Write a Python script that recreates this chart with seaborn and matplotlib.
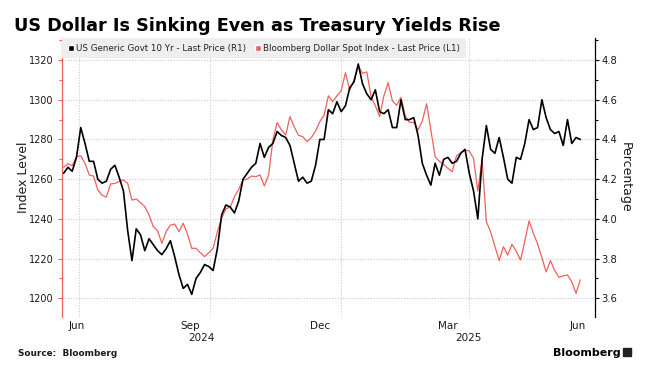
import numpy as np
import pandas as pd
import matplotlib
matplotlib.use("Agg")
import matplotlib.pyplot as plt
from matplotlib.patches import Patch, Rectangle
from matplotlib.ticker import MultipleLocator, FormatStrFormatter
import seaborn as sns

# every 3 calendar days
dates = pd.date_range("2024-06-20", periods=122, freq="3D")

yield_10y = [
    4.23, 4.26, 4.24, 4.31, 4.46, 4.38, 4.29, 4.29, 4.20, 4.18,
    4.19, 4.25, 4.27, 4.21, 4.14, 3.94, 3.79, 3.95, 3.92, 3.84,
    3.90, 3.87, 3.84, 3.82, 3.85, 3.89, 3.81, 3.72, 3.65, 3.67,
    3.62, 3.70, 3.73, 3.77, 3.76, 3.74, 3.85, 4.02, 4.07, 4.06,
    4.03, 4.09, 4.20, 4.23, 4.26, 4.28, 4.38, 4.31, 4.36, 4.38,
    4.44, 4.42, 4.41, 4.37, 4.28, 4.19, 4.21, 4.18, 4.19, 4.27,
    4.40, 4.40, 4.55, 4.53, 4.59, 4.54, 4.57, 4.66, 4.69, 4.78,
    4.68, 4.63, 4.60, 4.65, 4.54, 4.53, 4.55, 4.46, 4.46, 4.60,
    4.50, 4.50, 4.51, 4.42, 4.28, 4.22, 4.17, 4.28, 4.22, 4.30,
    4.31, 4.28, 4.29, 4.33, 4.35, 4.23, 4.14, 4.00, 4.30, 4.47,
    4.35, 4.33, 4.41, 4.31, 4.20, 4.18, 4.31, 4.30, 4.38, 4.50,
    4.45, 4.46, 4.60, 4.51, 4.45, 4.43, 4.44, 4.37, 4.50, 4.38,
    4.41, 4.40,
]

dollar_index = [
    1266.0, 1267.8, 1266.8, 1271.3, 1271.7, 1268.0, 1262.1, 1261.6, 1254.6, 1251.9,
    1251.0, 1257.6, 1257.9, 1258.8, 1259.6, 1257.9, 1249.5, 1250.0, 1248.2, 1246.2,
    1242.0, 1236.1, 1234.0, 1227.7, 1233.6, 1236.9, 1237.4, 1233.6, 1237.8, 1232.4,
    1225.2, 1225.2, 1223.0, 1221.0, 1223.0, 1225.2, 1233.6, 1240.3, 1245.2, 1245.8,
    1251.2, 1254.9, 1259.6, 1260.1, 1261.6, 1261.3, 1262.1, 1256.6, 1262.1, 1279.7,
    1288.5, 1284.8, 1282.2, 1291.5, 1286.4, 1282.1, 1281.4, 1278.9, 1280.9, 1284.3,
    1289.0, 1292.3, 1302.0, 1299.0, 1302.0, 1304.6, 1313.6, 1304.9, 1309.9, 1317.0,
    1313.3, 1314.0, 1301.5, 1297.0, 1291.5, 1302.0, 1308.6, 1299.4, 1297.2, 1301.2,
    1291.8, 1288.6, 1288.6, 1284.8, 1289.3, 1298.0, 1284.8, 1271.3, 1269.0, 1267.3,
    1265.5, 1263.8, 1271.7, 1273.4, 1274.7, 1274.2, 1270.5, 1254.0, 1270.0, 1238.6,
    1233.4, 1226.2, 1219.0, 1226.0, 1221.8, 1227.2, 1223.7, 1219.3, 1228.7, 1239.0,
    1232.8, 1227.4, 1220.5, 1213.3, 1219.0, 1214.0, 1210.6, 1211.3, 1211.8, 1208.4,
    1202.5, 1209.3,
]

month_ticks = ["2024-06-29", "2024-09-17", "2024-12-17", "2025-03-17", "2025-06-16"]
month_labels = ["Jun", "Sep", "Dec", "Mar", "Jun"]
quarter_lines = ["2024-07-01", "2024-10-01", "2025-01-01", "2025-04-01"]
year_labels = ["2024", "2025"]

red = "#f0605c"
grid_col = "#c9c9c9"
txt = "#1a1a1a"

sns.set_style("white")
plt.rcParams["font.family"] = ["DejaVu Sans"]

W, H = 645, 367
fig = plt.figure(figsize=(W / 100, H / 100), dpi=100)
ax = fig.add_axes([62 / W, 1 - 317 / H, 533 / W, 279 / H])
ax2 = ax.twinx()

sns.lineplot(x=dates, y=dollar_index, ax=ax, color=red, lw=0.9)
sns.lineplot(x=dates, y=yield_10y, ax=ax2, color="black", lw=1.2)

x0 = pd.Timestamp("2024-06-18 20:00")
x1 = pd.Timestamp("2025-06-28 08:00")
ax.set_xlim(x0, x1)
ax.set_ylim(1190.6, 1331.1)
ax2.set_ylim(3.506, 4.911)

ax.set_xticks(pd.to_datetime(month_ticks))
ax.set_xticklabels(month_labels)
ax.set_xticks(pd.to_datetime(quarter_lines), minor=True)
ax.yaxis.set_major_locator(MultipleLocator(20))
ax.yaxis.set_minor_locator(MultipleLocator(10))
ax2.yaxis.set_major_locator(MultipleLocator(0.2))
ax2.yaxis.set_minor_locator(MultipleLocator(0.1))
ax2.yaxis.set_major_formatter(FormatStrFormatter("%.1f"))

ax.grid(False)
ax2.grid(False)
ax.grid(which="minor", axis="x", ls=(0, (1, 1.5)), color=grid_col, lw=0.8)
ax.grid(which="major", axis="y", ls=(0, (1, 1.5)), color=grid_col, lw=0.8)

ax.tick_params(axis="x", which="both", length=0, pad=3, labelsize=7.5, labelcolor=txt)
ax.tick_params(axis="y", which="major", length=3, width=0.8, color=red, pad=3,
               labelsize=7, labelcolor=txt, left=True)
ax.tick_params(axis="y", which="minor", length=2, width=0.8, color=red, left=True)
ax2.tick_params(axis="y", which="major", length=3, width=0.8, color="black", pad=1.5,
                labelsize=7.2, labelcolor=txt, right=True)
ax2.tick_params(axis="y", which="minor", length=2, width=0.8, color="black", right=True)

for s in ["top", "right", "bottom"]:
    ax.spines[s].set_visible(False)
for s in ["top", "left", "bottom"]:
    ax2.spines[s].set_visible(False)
ax.spines["left"].set_color(red)
ax.spines["left"].set_linewidth(0.9)
ax2.spines["right"].set_color("black")
ax2.spines["right"].set_linewidth(0.9)

ax.set_xlabel("")
ax.set_ylabel("Index Level", fontsize=9, color=txt, va="center")
ax.yaxis.set_label_coords(-0.073, 0.5)
ax2.set_ylabel("Percentage", fontsize=9, color=txt, rotation=270, va="center")
ax2.yaxis.set_label_coords(1.056, 0.5)

# year labels centred under the visible part of each year
jan1 = pd.Timestamp("2025-01-01")
year_centers = [x0 + (jan1 - x0) / 2, jan1 + (x1 - jan1) / 2]
for lab, c in zip(year_labels, year_centers):
    ax.text(c, -0.075, lab, transform=ax.get_xaxis_transform(), ha="center",
            va="center", fontsize=7.5, color=txt)

handles = [Patch(facecolor="black", label="US Generic Govt 10 Yr - Last Price (R1)"),
           Patch(facecolor=red, label="Bloomberg Dollar Spot Index - Last Price (L1)")]
leg = ax2.legend(handles=handles, loc="upper left", bbox_to_anchor=(0, 1), ncol=2,
                 frameon=True, fancybox=False, fontsize=6.3, handlelength=0.7,
                 handleheight=0.7, handletextpad=0.2, columnspacing=1.1,
                 borderaxespad=0, borderpad=0.65, framealpha=1)
leg.get_frame().set_facecolor("#eeeeee")
leg.get_frame().set_edgecolor("none")
for t in leg.get_texts():
    t.set_color("#222222")

fig.text(14.5 / W, 1 - 30.7 / H, "US Dollar Is Sinking Even as Treasury Yields Rise",
         fontsize=12.7, fontweight="bold", va="baseline", ha="left", color="black")
fig.text(18 / W, 1 - 355.7 / H, "Source:  Bloomberg", fontsize=6.4,
         fontweight="bold", va="baseline", ha="left", color=txt)
fig.text(621 / W, 1 - 356 / H, "Bloomberg", fontsize=8, fontweight="bold",
         va="baseline", ha="right", color="black")
fig.add_artist(Rectangle((623 / W, 1 - 356 / H), 8 / W, 8 / H,
                         transform=fig.transFigure, color="#222222"))

fig.savefig("out.png", dpi=100)
